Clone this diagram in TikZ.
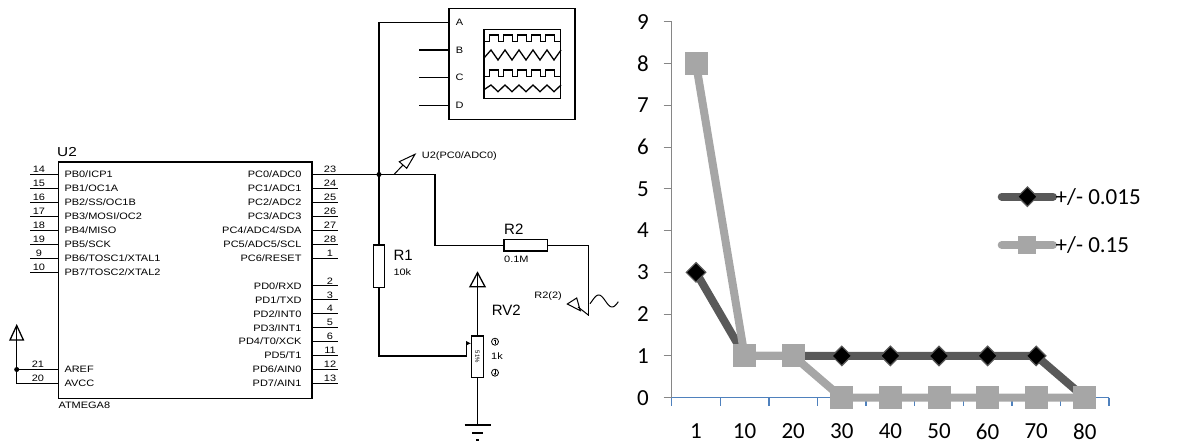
\documentclass[tikz,border=0pt]{standalone}
\usepackage{fontspec}
\setmainfont{Liberation Sans}
\newfontfamily\widefont[FakeStretch=1.18]{Liberation Sans}
\newfontfamily\chartfont{Carlito}
\usetikzlibrary{arrows.meta,shapes.geometric}
\definecolor{darkser}{HTML}{595959}
\definecolor{lightser}{HTML}{A6A6A6}
\definecolor{axisblue}{HTML}{4F81BD}
\definecolor{axisgray}{HTML}{868686}
\begin{document}
\begin{tikzpicture}[x=1pt,y=-1pt,
  wire/.style={line width=1.3pt,line cap=rect},
  pinline/.style={line width=1pt},
  small/.style={font=\widefont\fontsize{9.3}{10}\selectfont,inner sep=0pt},
  biglbl/.style={font=\fontsize{15}{16}\selectfont,inner sep=0pt},
  resbox/.style={draw,line width=1.3pt,fill=white,inner sep=0pt},
  charttxt/.style={font=\chartfont\fontsize{23}{24}\selectfont,inner sep=0pt},
  darkline/.style={draw=darkser,line width=8pt,line cap=round,line join=round},
  lightline/.style={draw=lightser,line width=8pt,line cap=round,line join=round},
  dmark/.style={diamond,aspect=1,fill=black,draw=darkser,line width=1.2pt,minimum width=20pt,minimum height=20pt,inner sep=0pt},
  smark/.style={rectangle,fill=lightser,minimum width=23pt,minimum height=23pt,inner sep=0pt},
  jdot/.style={circle,fill=black,inner sep=0pt,minimum size=5pt}
]
\useasboundingbox (0,0) rectangle (1198,443);

% ================= Schematic =================
% IC body
\node[draw,line width=1.6pt,minimum width=253.4pt,minimum height=236pt,inner sep=0pt] (U2) at (185,280.3) {};
\node[font=\widefont\fontsize{13}{14}\selectfont,inner sep=0pt,anchor=base west] (U2name) at (57,156.5) {U2};
\node[small,anchor=north west] (U2type) at (58.3,402) {ATMEGA8};

% left pins
\foreach \num/\lab [count=\i from 0] in {14/{PB0/ICP1},15/{PB1/OC1A},16/{PB2/SS/OC1B},17/{PB3/MOSI/OC2},18/{PB4/MISO},19/{PB5/SCK},9/{PB6/TOSC1/XTAL1},10/{PB7/TOSC2/XTAL2}}{
  \pgfmathsetmacro\yy{174.5+13.93*\i}
  \draw[pinline] (30,\yy) -- (58.3,\yy);
  \node[small,anchor=base] (ln\num) at (39,\yy-1.8) {\num};
  \node[small,anchor=base west] (ll\num) at (64.3,\yy+3.3) {\lab};
}
% right pins
\foreach \num/\lab/\r in {23/{PC0/ADC0}/0,24/{PC1/ADC1}/1,25/{PC2/ADC2}/2,26/{PC3/ADC3}/3,27/{PC4/ADC4/SDA}/4,28/{PC5/ADC5/SCL}/5,1/{PC6/RESET}/6,2/{PD0/RXD}/8,3/{PD1/TXD}/9,4/{PD2/INT0}/10,5/{PD3/INT1}/11,6/{PD4/T0/XCK}/12,11/{PD5/T1}/13,12/{PD6/AIN0}/14,13/{PD7/AIN1}/15}{
  \pgfmathsetmacro\yy{174.5+13.93*\r}
  \draw[pinline] (311.7,\yy) -- (338.3,\yy);
  \node[small,anchor=base] (rn\num) at (330,\yy-1.8) {\num};
  \node[small,anchor=base east] (rl\num) at (301.7,\yy+3.3) {\lab};
}
% AREF / AVCC pins
\pgfmathsetmacro\ya{174.5+13.93*14}
\pgfmathsetmacro\yb{174.5+13.93*15}
\coordinate (arefL) at (16.7,\ya);
\coordinate (avccL) at (16.7,\yb);
\coordinate (arefR) at (58.3,\ya);
\coordinate (avccR) at (58.3,\yb);
\draw[pinline] (arefL) -- (arefR);
\draw[pinline] (avccL) -- (avccR);
\node[small,anchor=base] (n21) at (38,\ya-1.8) {21};
\node[small,anchor=base] (n20) at (38,\yb-1.8) {20};
\node[small,anchor=base west] (lAREF) at (64.3,\ya+3.3) {AREF};
\node[small,anchor=base west] (lAVCC) at (64.3,\yb+3.3) {AVCC};
\coordinate (pwrL) at (16.7,340);
\draw[wire] (pwrL) -- (avccL);
\draw[line width=1.3pt,line join=miter] (10,340) -- (16.7,325.5) -- (23.4,340) -- cycle;
\draw[line width=1.3pt] (16.7,325.5) -- (pwrL);
\node[jdot] (jL) at (arefL) {};

% PC0 wire and junction
\coordinate (p23) at (338.3,174.5);
\coordinate (J) at (379,174.5);
\draw[wire] (p23) -- (J);
\node[jdot] (Jdot) at (J) {};

% Oscilloscope
\node[draw,line width=1.3pt,minimum width=126pt,minimum height=111pt,inner sep=0pt] (scope) at (512,63.8) {};
\coordinate (sA) at (449,22.3);
\coordinate (sB) at (449,50);
\coordinate (sC) at (449,77.7);
\coordinate (sD) at (449,105.7);
\node[small,anchor=center] (lA) at (459.5,22.3) {A};
\node[small,anchor=center] (lB) at (459.5,50) {B};
\node[small,anchor=center] (lC) at (459.5,77.7) {C};
\node[small,anchor=center] (lD) at (459.5,105.7) {D};
\coordinate (topA) at (379,22.3);
\draw[wire] (J) -- (topA) -- (sA);
\draw[wire] (420,50) -- (sB);
\draw[wire] (420,77.7) -- (sC);
\draw[wire] (420,105.7) -- (sD);
\node[draw,line width=1.3pt,minimum width=76.7pt,minimum height=69pt,inner sep=0pt] (screen) at (522.35,63.8) {};
% square waves
\foreach \yl/\yh in {41.7/35, 76.7/70}{
  \draw[line width=1.3pt] (484,\yl)
    \foreach \s in {489.3,503.3,517.5,531.6,545.7}{ -- (\s,\yl) -- (\s,\yh) -- (\s+9,\yh) -- (\s+9,\yl)} -- (560.7,\yl);
}
% triangle waves
\foreach \yt/\yb in {50/60, 85/91.7}{
  \draw[line width=1.3pt] (484,\yb-2)
    \foreach \k in {1,...,11}{ -- ({484+7*\k},{\yb-(\yb-\yt)*mod(\k,2)})};
}

% voltage probe U2(PC0/ADC0)
\coordinate (pr1) at (394,174.5);
\coordinate (pr2) at (403,165);
\draw[line width=1pt] (pr1) -- (pr2);
\draw[line width=1pt] (399.3,161.7) -- (415,154.3) -- (406.7,168.3) -- cycle;
\node[small,anchor=west] (prlbl) at (421.7,156) {U2(PC0/ADC0)};

% R2 branch
\node[resbox,minimum width=43.3pt,minimum height=11.7pt] (R2) at (525.7,245.2) {};
\node[biglbl,anchor=base west] (R2name) at (504,234.8) {R2};
\node[small,anchor=west] (R2val) at (504,259) {0.1M};
\coordinate (c1) at (435,174.5);
\coordinate (c2) at (435,245.2);
\coordinate (c3) at (588.3,245.2);
\coordinate (c4) at (588.3,315);
\draw[wire] (J) -- (c1) -- (c2) -- (R2.west);
\draw[wire] (R2.east) -- (c3) -- (c4);
% R2(2) probe
\draw[line width=1pt] (c4) -- (578,307);
\draw[line width=1pt] (567.3,304) -- (576.7,298) -- (580.3,310.7) -- cycle;
\node[small,anchor=east] (pr2lbl) at (562,296) {R2(2)};
% sine source symbol
\draw[line width=1pt] plot[domain=590:618.3,samples=50] (\x,{301-6*sin((\x-592)/26.8*360)});

% R1
\node[resbox,minimum width=11.6pt,minimum height=42.3pt] (R1) at (379,266.2) {};
\node[biglbl,anchor=base west] (R1name) at (393.3,260.5) {R1};
\node[small,anchor=west] (R1val) at (393.3,271.7) {10k};
\draw[wire] (J) -- (R1.north);

% RV2 potentiometer
\node[resbox,minimum width=11.6pt,minimum height=41.3pt] (RV) at (477.5,356.7) {};
\node[rotate=-90,font=\fontsize{6}{6}\selectfont,inner sep=0pt] (RVtxt) at (RV) {51\%};
\node[biglbl,anchor=base west] (RVname) at (491.7,315.5) {RV2};
\node[small,anchor=west] (RVval) at (491,356.5) {1k};
\node[circle,draw,line width=0.8pt,inner sep=0pt,minimum size=7pt] (RVup) at (495,341.7) {};
\node[circle,draw,line width=0.8pt,inner sep=0pt,minimum size=7pt] (RVdn) at (495,372.7) {};
\draw[line width=0.7pt,-{Stealth[length=2pt,width=2.5pt]}] (495,344) -- (495,339.3);
\draw[line width=0.7pt,-{Stealth[length=2pt,width=2.5pt]}] (495,370.4) -- (495,375.1);
\coordinate (w1) at (379,356);
\coordinate (w2) at (466.7,356);
\coordinate (w3) at (466.7,343.3);
\draw[wire] (R1.south) -- (w1) -- (w2) -- (w3);
\draw[line width=1.3pt,-{Latex[length=5pt,width=5pt]}] (w3) -- (RV.west |- w3);
% power arrow above pot
\coordinate (vtop) at (477.5,272.7);
\draw[wire] (RV.north) -- (vtop);
\draw[line width=1.3pt,line join=miter] (470,286.7) -- (vtop) -- (485,286.7) -- cycle;
% ground below pot
\coordinate (gnd) at (477.5,425);
\draw[wire] (RV.south) -- (gnd);
\draw[line width=1.3pt] (464.5,425) -- (490.5,425);
\draw[line width=1.3pt] (472,433) -- (483,433);
\draw[line width=1.3pt] (476,440) -- (479,440);

% ================= Chart =================
\coordinate (origin) at (671.7,397.7);
\coordinate (ytop) at (671.7,21.7);
\coordinate (xend) at (1109.3,397.7);
\draw[axisgray,line width=1pt] (ytop) -- (origin);
\foreach \v in {0,...,9}{
  \draw[axisgray,line width=1pt] (663.7,{397.7-41.78*\v}) -- (671.7,{397.7-41.78*\v});
  \node[charttxt,anchor=east] (yl\v) at (649,{397.7-41.78*\v}) {\v};
}
\draw[axisblue,line width=1.3pt] (origin) -- (xend);
\foreach \k in {0,...,9}{
  \draw[axisblue,line width=1.3pt] ({671.7+48.6*\k},397.7) -- ({671.7+48.6*\k},405.7);
}
\foreach \lab [count=\i from 0] in {1,10,20,30,40,50,60,70,80}{
  \node[charttxt,anchor=center] (xl\i) at ({671.7+48.6*(\i+0.5)},431.5) {\lab};
}
% series data
\foreach \v [count=\i from 0] in {3,1,1,1,1,1,1,1,0}{
  \coordinate (d\i) at ({671.7+48.6*(\i+0.5)},{397.7-41.78*\v});
}
\foreach \v [count=\i from 0] in {8,1,1,0,0,0,0,0,0}{
  \coordinate (l\i) at ({671.7+48.6*(\i+0.5)},{397.7-41.78*\v});
}
\draw[darkline] (d0) \foreach \i in {1,...,8}{ -- (d\i)};
\foreach \i in {0,...,8}{ \node[dmark] (dm\i) at (d\i) {}; }
\draw[lightline] (l0) \foreach \i in {1,...,8}{ -- (l\i)};
\foreach \i in {0,...,8}{ \node[smark] (sm\i) at (l\i) {}; }

% legend
\coordinate (lg1a) at (1001.7,196.7);
\coordinate (lg1b) at (1053,196.7);
\coordinate (lg2a) at (1001.7,245);
\coordinate (lg2b) at (1053,245);
\draw[darkline] (lg1a) -- (lg1b);
\node[dmark] (lgm1) at (1027.4,196.7) {};
\draw[lightline] (lg2a) -- (lg2b);
\node[smark,minimum width=18pt,minimum height=18pt] (lgm2) at (1027.4,245) {};
\node[charttxt,anchor=west] (lgt1) at (1055.5,196.7) {+/- 0.015};
\node[charttxt,anchor=west] (lgt2) at (1055.5,245) {+/- 0.15};
\end{tikzpicture}
\end{document}
